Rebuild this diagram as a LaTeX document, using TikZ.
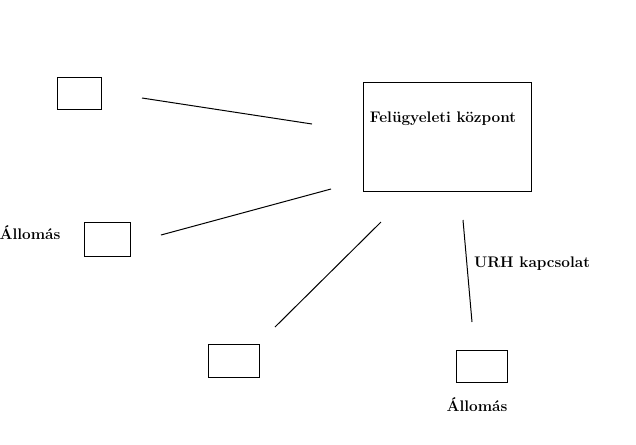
\documentclass[tikz,border=0pt]{standalone}
\usepackage{tikz}
\usetikzlibrary{positioning,calc}
\newcommand{\unitpx}{*0.75pt}
\tikzset{
  allomas/.style={draw,line width=0.75pt,minimum width=44\unitpx,minimum height=32\unitpx,inner sep=0pt},
  kozpont/.style={draw,line width=0.75pt,minimum width=168\unitpx,minimum height=109\unitpx,inner sep=0pt},
  felirat/.style={font=\fontsize{11.5}{14}\selectfont\bfseries,inner sep=0pt},
  urh/.style={line width=0.75pt},
}

\begin{document}
\begin{tikzpicture}[x=0.75pt,y=-0.75pt]
  \useasboundingbox (0,0) rectangle (636,444);
  \node[allomas] (a1) at (79,93) {};
  \node[allomas,minimum width=46\unitpx,minimum height=34\unitpx] (a2) at (107,239) {};
  \node[allomas,minimum width=51\unitpx,minimum height=33\unitpx] (a3) at (233.5,360.5) {};
  \node[allomas,minimum width=51\unitpx] (a4) at (481.5,366) {};
  \node[kozpont] (kp) at (447,136.5) {};
  \node[felirat] (kptxt) at ($(kp.center)+(-4,-17.5)$) {Felügyeleti központ};
  \node[felirat] (a2txt) at (30,233) {Állomás};
  \node[felirat] (a4txt) at (477,405) {Állomás};
  \node[felirat] (urhtxt) at (532,264) {URH kapcsolat};
  % vonalak vegpontjai
  \coordinate (v1a) at (142,98);  \coordinate (v1b) at (312,124);
  \coordinate (v2a) at (161,235); \coordinate (v2b) at (331,189);
  \coordinate (v3a) at (275,327); \coordinate (v3b) at (381,222);
  \coordinate (v4a) at (463,220); \coordinate (v4b) at (472,322);
  \draw[urh] (v1a) -- (v1b);
  \draw[urh] (v2a) -- (v2b);
  \draw[urh] (v3a) -- (v3b);
  \draw[urh] (v4a) -- (v4b);
\end{tikzpicture}
\end{document}
